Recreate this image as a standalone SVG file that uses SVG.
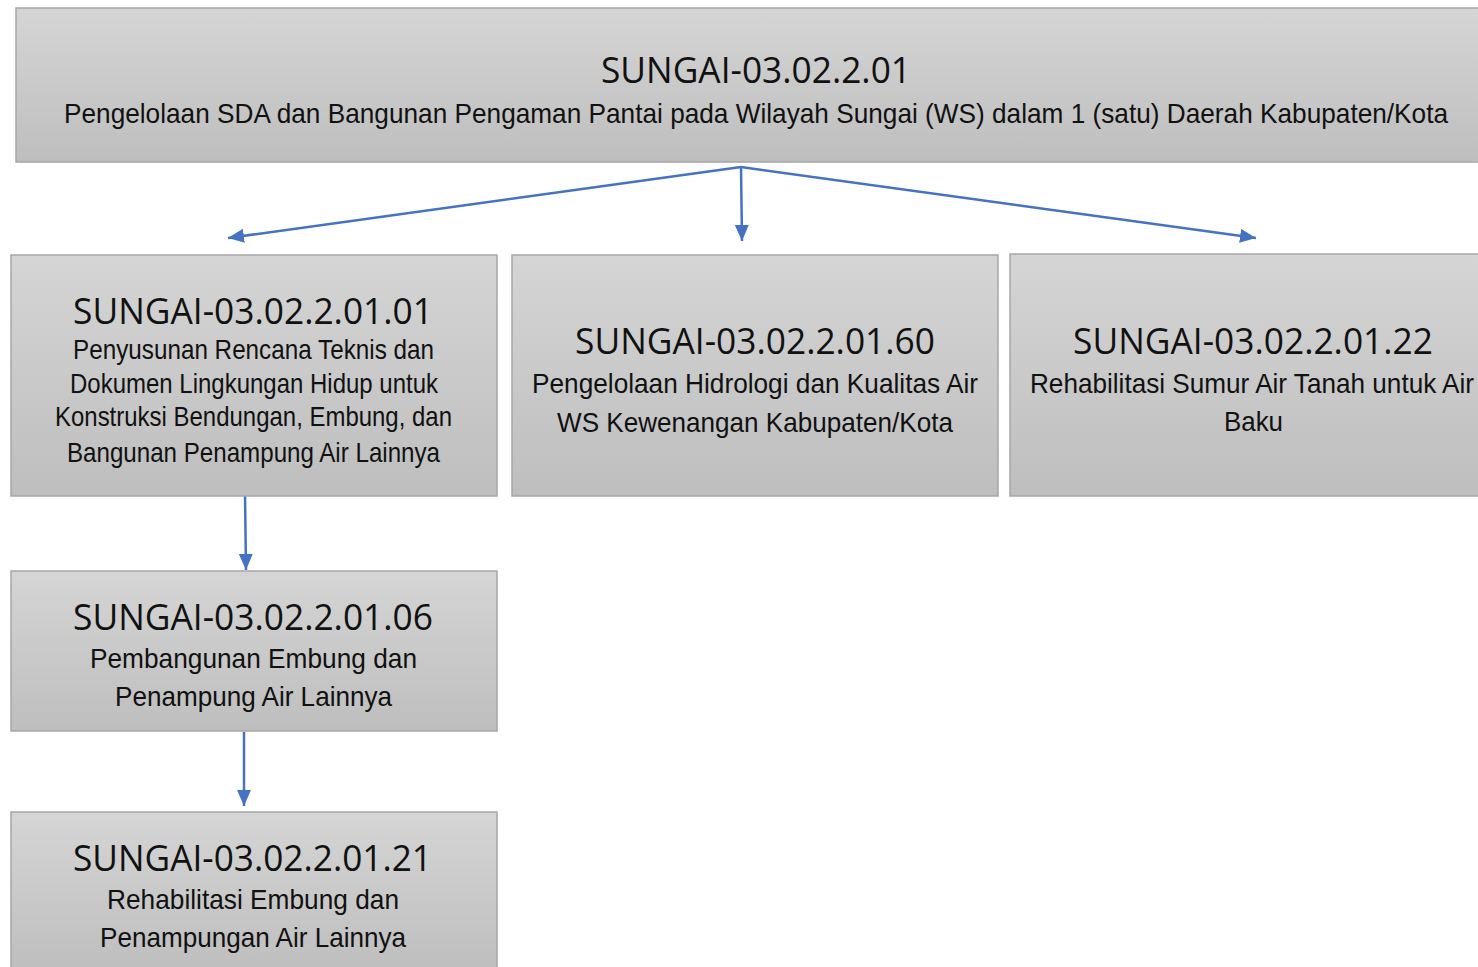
<svg xmlns="http://www.w3.org/2000/svg" width="1478" height="967" viewBox="0 0 1478 967">
<defs>
<linearGradient id="g" x1="0" y1="0" x2="0" y2="1">
<stop offset="0" stop-color="#d5d5d5"/>
<stop offset="1" stop-color="#bebebe"/>
</linearGradient>
<marker id="ah" markerUnits="userSpaceOnUse" markerWidth="18" markerHeight="16" refX="16" refY="7" orient="auto">
<path d="M0,0 L16,7 L0,14 z" fill="#4472c4"/>
</marker>
<style>
.box{fill:url(#g);stroke:#a6a6a6;stroke-width:1.5}
.t{font-family:"Open Sans","Noto Sans","DejaVu Sans",sans-serif;font-size:36px;fill:#111;text-anchor:middle}
.s{font-family:"Liberation Sans Narrow","Liberation Sans",Arial,sans-serif;font-size:28px;fill:#111;text-anchor:middle}
.c{fill:none;stroke:#4472c4;stroke-width:2.5;marker-end:url(#ah)}
</style>
</defs>
<rect width="1478" height="967" fill="#fff"/>
<g id="connectors">
<line class="c" x1="741" y1="167" x2="228" y2="238"/>
<line class="c" x1="741" y1="167" x2="742" y2="241"/>
<line class="c" x1="741" y1="167" x2="1256" y2="238"/>
<line class="c" x1="245" y1="494" x2="246" y2="570"/>
<line class="c" x1="244" y1="732" x2="244" y2="806"/>
</g>
<g id="n0">
<rect class="box" x="16" y="8" width="1464" height="154"/>
<text class="t" x="756" y="83" textLength="310" lengthAdjust="spacingAndGlyphs">SUNGAI-03.02.2.01</text>
<text class="s" x="756" y="123" font-size="29" textLength="1384" lengthAdjust="spacingAndGlyphs">Pengelolaan SDA dan Bangunan Pengaman Pantai pada Wilayah Sungai (WS) dalam 1 (satu) Daerah Kabupaten/Kota</text>
</g>
<g id="n1">
<rect class="box" x="11" y="255" width="486" height="241"/>
<text class="t" x="253" y="324" textLength="360" lengthAdjust="spacingAndGlyphs">SUNGAI-03.02.2.01.01</text>
<text class="s" x="253.5" y="359" textLength="361" lengthAdjust="spacingAndGlyphs">Penyusunan Rencana Teknis dan</text>
<text class="s" x="254" y="393" textLength="368" lengthAdjust="spacingAndGlyphs">Dokumen Lingkungan Hidup untuk</text>
<text class="s" x="253.5" y="426" textLength="397" lengthAdjust="spacingAndGlyphs">Konstruksi Bendungan, Embung, dan</text>
<text class="s" x="253.5" y="462" textLength="373" lengthAdjust="spacingAndGlyphs">Bangunan Penampung Air Lainnya</text>
</g>
<g id="n2">
<rect class="box" x="512" y="255" width="486" height="241"/>
<text class="t" x="755" y="354" textLength="360" lengthAdjust="spacingAndGlyphs">SUNGAI-03.02.2.01.60</text>
<text class="s" x="755" y="393" textLength="446" lengthAdjust="spacingAndGlyphs">Pengelolaan Hidrologi dan Kualitas Air</text>
<text class="s" x="755" y="432" textLength="396" lengthAdjust="spacingAndGlyphs">WS Kewenangan Kabupaten/Kota</text>
</g>
<g id="n3">
<rect class="box" x="1010" y="254" width="470" height="242"/>
<text class="t" x="1253" y="354" textLength="360" lengthAdjust="spacingAndGlyphs">SUNGAI-03.02.2.01.22</text>
<text class="s" x="1252" y="393" textLength="444" lengthAdjust="spacingAndGlyphs">Rehabilitasi Sumur Air Tanah untuk Air</text>
<text class="s" x="1253.5" y="431" textLength="59" lengthAdjust="spacingAndGlyphs">Baku</text>
</g>
<g id="n4">
<rect class="box" x="11" y="571" width="486" height="160"/>
<text class="t" x="253" y="630" textLength="360" lengthAdjust="spacingAndGlyphs">SUNGAI-03.02.2.01.06</text>
<text class="s" x="253.5" y="668" textLength="327" lengthAdjust="spacingAndGlyphs">Pembangunan Embung dan</text>
<text class="s" x="253.5" y="706" textLength="277" lengthAdjust="spacingAndGlyphs">Penampung Air Lainnya</text>
</g>
<g id="n5">
<rect class="box" x="11" y="812" width="486" height="160"/>
<text class="t" x="252.5" y="871" textLength="359" lengthAdjust="spacingAndGlyphs">SUNGAI-03.02.2.01.21</text>
<text class="s" x="253" y="909" textLength="292" lengthAdjust="spacingAndGlyphs">Rehabilitasi Embung dan</text>
<text class="s" x="253" y="947" textLength="306" lengthAdjust="spacingAndGlyphs">Penampungan Air Lainnya</text>
</g>
</svg>
